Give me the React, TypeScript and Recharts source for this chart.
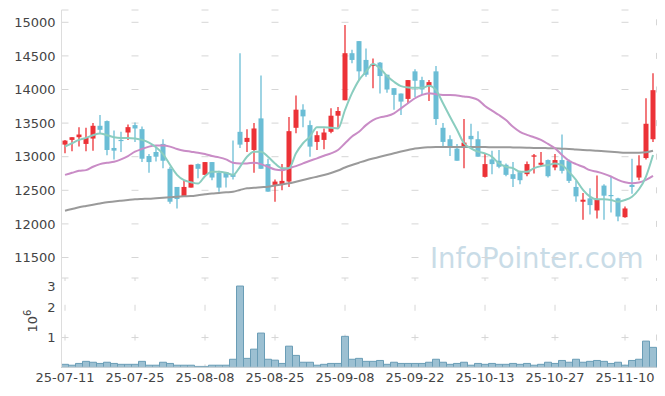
import { ComposedChart, BarChart, Bar, Line, XAxis, YAxis, CartesianGrid } from 'recharts'

// trading days shown (yy-mm-dd)
const DATES = [
  '25-07-11', '25-07-14', '25-07-15', '25-07-16', '25-07-17', '25-07-18', '25-07-21', '25-07-22', '25-07-23', '25-07-24',
  '25-07-25', '25-07-28', '25-07-29', '25-07-30', '25-07-31', '25-08-01', '25-08-04', '25-08-05', '25-08-06', '25-08-07',
  '25-08-08', '25-08-11', '25-08-12', '25-08-13', '25-08-14', '25-08-18', '25-08-19', '25-08-20', '25-08-21', '25-08-22',
  '25-08-25', '25-08-26', '25-08-27', '25-08-28', '25-08-29', '25-09-01', '25-09-02', '25-09-03', '25-09-04', '25-09-05',
  '25-09-08', '25-09-09', '25-09-10', '25-09-11', '25-09-12', '25-09-15', '25-09-16', '25-09-17', '25-09-18', '25-09-19',
  '25-09-22', '25-09-23', '25-09-24', '25-09-25', '25-09-26', '25-09-29', '25-09-30', '25-10-01', '25-10-02', '25-10-10',
  '25-10-13', '25-10-14', '25-10-15', '25-10-16', '25-10-17', '25-10-20', '25-10-21', '25-10-22', '25-10-23', '25-10-24',
  '25-10-27', '25-10-28', '25-10-29', '25-10-30', '25-10-31', '25-11-03', '25-11-04', '25-11-05', '25-11-06', '25-11-07',
  '25-11-10', '25-11-11', '25-11-12', '25-11-13', '25-11-14',
]

const TICK_DATES = ['25-07-11', '25-07-25', '25-08-08', '25-08-25', '25-09-08', '25-09-22', '25-10-13', '25-10-27', '25-11-10']

const OPEN = [
  13180, 13250, 13290, 13190, 13270, 13460, 13530, 13130, 13250, 13360,
  13470, 13410, 13010, 13070, 13190, 12820, 12550, 12410, 12540, 12890,
  12730, 12920, 12760, 12770, 12740, 13370, 13220, 13100, 13570, 12890,
  12580, 12590, 12630, 13430, 13700, 13470, 13220, 13250, 13370, 13610,
  13840, 14540, 14720, 14440, 14350, 14400, 14220, 14020, 13940, 13860,
  14270, 14140, 14050, 14270, 13430, 13260, 13120, 13150, 13310, 13260,
  12700, 12960, 12940, 12880, 12740, 12770, 12740, 13000, 12880, 12950,
  12840, 12950, 12940, 12550, 12330, 12380, 12200, 12570, 12430, 12380,
  12100, 12580, 12690, 12980, 13260,
]

const HIGH = [
  13250, 13290, 13440, 13430, 13500, 13620, 13540, 13390, 13370, 13480,
  13510, 13450, 13040, 13150, 13260, 12850, 12550, 12650, 12880, 12900,
  12920, 12920, 12790, 12770, 13240, 14540, 13410, 13500, 14210, 12970,
  12660, 12890, 13590, 13910, 13780, 13540, 13380, 13420, 13720, 13740,
  14960, 14590, 14720, 14610, 14460, 14410, 14220, 14020, 13940, 14140,
  14300, 14190, 14140, 14350, 13500, 13320, 13190, 13560, 13490, 13380,
  13050, 13090, 13100, 12900, 12920, 12790, 12930, 13040, 13070, 12960,
  13040, 13330, 12960, 12640, 12460, 12530, 12720, 12590, 12700, 12390,
  12260, 12970, 13020, 13870, 14240,
]

const LOW = [
  13050, 13080, 13150, 13080, 13090, 13350, 13020, 12960, 13070, 13250,
  13220, 12920, 12760, 12930, 12830, 12300, 12230, 12410, 12540, 12680,
  12730, 12650, 12480, 12540, 12660, 13130, 13070, 12760, 12820, 12480,
  12330, 12500, 12550, 13350, 13440, 13000, 13100, 13110, 13350, 13430,
  13840, 14390, 14140, 14190, 14020, 13940, 13950, 13700, 13620, 13800,
  13890, 13920, 13830, 13470, 13150, 13010, 12940, 12830, 13160, 13000,
  12690, 12740, 12830, 12710, 12550, 12590, 12710, 12750, 12850, 12690,
  12800, 12750, 12610, 12330, 12060, 12140, 12080, 12060, 12170, 12040,
  12090, 12450, 12650, 12960, 13220,
]

const CLOSE = [
  13240, 13290, 13330, 13280, 13460, 13400, 13100, 13090, 13240, 13440,
  13420, 12970, 12920, 13000, 12940, 12330, 12370, 12550, 12880, 12820,
  12920, 12690, 12540, 12690, 12700, 13180, 13280, 13420, 12820, 12480,
  12630, 12640, 13380, 13700, 13600, 13150, 13320, 13360, 13610, 13680,
  14540, 14440, 14270, 14220, 14380, 14200, 14000, 13920, 13820, 14140,
  14130, 14000, 14110, 13560, 13220, 13150, 12940, 13210, 13260, 13000,
  12890, 12890, 12850, 12730, 12670, 12650, 12890, 13020, 12910, 12710,
  12950, 12790, 12640, 12410, 12360, 12280, 12370, 12420, 12420, 12110,
  12230, 12550, 12870, 13490, 13990,
]

const MA5 = [
  13150, 13200, 13250, 13280, 13320, 13345, 13320, 13290, 13280, 13280,
  13270, 13250, 13210, 13140, 13040, 12880, 12730, 12650, 12620, 12600,
  12710, 12775, 12775, 12760, 12730, 12850, 13000, 13075, 13075, 13000,
  12900, 12830, 12830, 13050, 13200, 13300, 13440, 13440, 13430, 13420,
  13695, 13945, 14140, 14265, 14380, 14315, 14200, 14115, 14050, 14030,
  14025, 14025, 14055, 13990, 13795, 13595, 13400, 13200, 13125, 13075,
  13050, 13000, 12900, 12850, 12830, 12775, 12775, 12830, 12860, 12875,
  12900, 12875, 12775, 12655, 12505, 12405, 12365, 12365, 12355, 12330,
  12355, 12405, 12515, 12705, 13025,
]

const MA20 = [
  12730, 12760, 12790, 12800, 12850, 12890, 12910, 12925, 12960, 13010,
  13075, 13115, 13150, 13165, 13165, 13150, 13115, 13090, 13075, 13060,
  13040, 13010, 12990, 12960, 12910, 12900, 12900, 12910, 12890, 12850,
  12810, 12800, 12830, 12860, 12900, 12940, 12975, 13015, 13050, 13100,
  13200, 13300, 13370, 13470, 13545, 13585, 13605, 13645, 13720, 13795,
  13870, 13920, 13945, 13930, 13920, 13920, 13910, 13895, 13880, 13845,
  13755, 13685, 13620, 13545, 13445, 13370, 13325, 13290, 13250, 13190,
  13125, 13025, 12940, 12890, 12850, 12800, 12775, 12745, 12705, 12655,
  12620, 12605, 12615, 12655, 12715,
]

const MA60 = [
  12197, 12222, 12247, 12267, 12286, 12304, 12322, 12334, 12345, 12356,
  12366, 12371, 12375, 12383, 12390, 12397, 12405, 12411, 12415, 12427,
  12441, 12453, 12460, 12470, 12479, 12505, 12530, 12537, 12546, 12554,
  12572, 12588, 12604, 12628, 12653, 12679, 12703, 12728, 12758, 12795,
  12839, 12877, 12911, 12944, 12973, 13000, 13025, 13051, 13077, 13100,
  13122, 13134, 13140, 13144, 13144, 13144, 13144, 13144, 13144, 13144,
  13144, 13141, 13140, 13140, 13138, 13137, 13134, 13130, 13130, 13127,
  13125, 13119, 13115, 13107, 13100, 13095, 13089, 13082, 13075, 13067,
  13060, 13060, 13060, 13066, 13089,
]

const VOLUME = [
  100000, 70000, 130000, 200000, 170000, 130000, 170000, 130000, 100000, 100000,
  100000, 200000, 70000, 70000, 170000, 130000, 70000, 70000, 70000, 30000,
  30000, 70000, 70000, 70000, 270000, 2730000, 300000, 610000, 1150000, 270000,
  240000, 130000, 710000, 400000, 170000, 170000, 70000, 100000, 130000, 130000,
  1040000, 270000, 300000, 200000, 200000, 230000, 100000, 170000, 130000, 130000,
  130000, 130000, 170000, 270000, 170000, 100000, 130000, 170000, 70000, 130000,
  100000, 130000, 100000, 100000, 130000, 100000, 130000, 70000, 100000, 170000,
  130000, 230000, 170000, 270000, 170000, 200000, 230000, 200000, 130000, 170000,
  70000, 230000, 270000, 880000, 670000,
]

const PRICE_TICKS = [11500, 12000, 12500, 13000, 13500, 14000, 14500, 15000]
const VOLUME_TICKS = [1000000, 2000000, 3000000]

const UP = '#ec3237'
const DOWN = '#6bbdd5'
const BORDER = '#dddddd'
const CROSS = '#d6d6d6'
const tickStyle = { fontSize: 13, fill: '#444', fontFamily: 'DejaVu Sans' }

const rows = DATES.map((date, i) => ({
  date,
  open: OPEN[i],
  high: HIGH[i],
  low: LOW[i],
  close: CLOSE[i],
  ma5: MA5[i],
  ma20: MA20[i],
  ma60: MA60[i],
  volume: VOLUME[i],
}))

const Candle = (props: any) => {
  const { x, y, width, height, payload } = props
  if (!payload || y == null) return null
  const { open, close, high, low } = payload
  const top = Math.min(y, y + height)
  const bottom = Math.max(y, y + height)
  // map a price into the bar's pixel span (bar spans low..high)
  const px = (v: number) => top + ((high - v) / (high - low || 1)) * (bottom - top)
  const color = close >= open ? UP : DOWN
  const cx = x + width / 2
  const bodyTop = px(Math.max(open, close))
  const bodyBottom = px(Math.min(open, close))
  return (
    <g>
      <line x1={cx} x2={cx} y1={top} y2={bottom} stroke={color} strokeWidth={1.3} />
      <rect x={cx - 2.5} width={5} y={bodyTop} height={Math.max(bodyBottom - bodyTop, 1.2)} fill={color} />
    </g>
  )
}

const ExpLabel = (props: any) => {
  const vb = props.viewBox || { x: 0, y: 278, width: 61.5, height: 89 }
  const x = vb.x + 37.5
  const y = vb.y + vb.height / 2 - 1.5
  return (
    <text x={x} y={y} transform={`rotate(-90, ${x}, ${y})`} textAnchor="middle" fill="#444" fontSize={13} fontFamily="DejaVu Sans">
      10<tspan dy={-6} fontSize={10}>6</tspan>
    </text>
  )
}

export default function App() {
  return (
    <div style={{ position: 'absolute', left: 0, top: 0, width: 665, height: 396, background: '#fff' }}>
      <div style={{ position: 'absolute', left: 430, top: 242, fontFamily: '"DejaVu Sans"', fontSize: 27.5, lineHeight: 'normal', color: '#c9dce7', whiteSpace: 'nowrap' }}>
        InfoPointer.com
      </div>
      <div style={{ position: 'absolute', left: 0, top: 0 }}>
        <ComposedChart width={665} height={278} data={rows} margin={{ top: 10, right: 8.5, bottom: 0, left: 0 }} barCategoryGap={0}>
          <CartesianGrid vertical={false} stroke={CROSS} strokeDasharray="7 63" />
          <CartesianGrid horizontal={false} stroke={CROSS} strokeDasharray="6 27.6" strokeDashoffset={24.3} />
          <XAxis dataKey="date" ticks={TICK_DATES} height={0} tick={false} tickLine={false} axisLine={false} />
          <XAxis xAxisId="top" dataKey="date" orientation="top" height={0} tick={false} tickLine={false} axisLine={{ stroke: BORDER }} />
          <YAxis
            width={61.5}
            domain={[11195, 15183]}
            allowDataOverflow
            ticks={PRICE_TICKS}
            tick={tickStyle}
            tickLine={false}
            tickSize={4}
            tickMargin={2}
            axisLine={{ stroke: BORDER }}
          />
          <YAxis yAxisId="right" orientation="right" width={0} tick={false} tickLine={false} axisLine={{ stroke: BORDER }} />
          <Bar dataKey={(d: any) => [d.low, d.high]} shape={Candle} isAnimationActive={false} />
          <Line dataKey="ma60" type="monotone" stroke="#9a9a9a" strokeWidth={2} dot={false} isAnimationActive={false} />
          <Line dataKey="ma20" type="monotone" stroke="#c98cc6" strokeWidth={2} dot={false} isAnimationActive={false} />
          <Line dataKey="ma5" type="monotone" stroke="#8acdbf" strokeWidth={2} dot={false} isAnimationActive={false} />
        </ComposedChart>
      </div>
      <div style={{ position: 'absolute', left: 0, top: 278 }}>
        <BarChart width={665} height={118} data={rows} margin={{ top: 0, right: 8.5, bottom: 4.7, left: 0 }} barCategoryGap={0}>
          <CartesianGrid vertical={false} stroke={CROSS} strokeDasharray="7 63" />
          <CartesianGrid horizontal={false} stroke={CROSS} strokeDasharray="6 23.77" strokeDashoffset={3} />
          <XAxis
            dataKey="date"
            ticks={TICK_DATES}
            height={24}
            tick={tickStyle}
            tickLine={false}
            tickSize={3}
            tickMargin={2}
            axisLine={{ stroke: BORDER }}
          />
          <XAxis xAxisId="top" dataKey="date" orientation="top" height={0} tick={false} tickLine={false} axisLine={{ stroke: BORDER }} />
          <YAxis
            width={61.5}
            domain={[0, 3000000]}
            ticks={VOLUME_TICKS}
            tickFormatter={(v: number) => String(v / 1000000)}
            tick={tickStyle}
            tickLine={false}
            tickSize={4}
            tickMargin={2}
            axisLine={{ stroke: BORDER }}
            label={<ExpLabel />}
          />
          <YAxis yAxisId="right" orientation="right" width={0} tick={false} tickLine={false} axisLine={{ stroke: BORDER }} />
          <Bar dataKey="volume" fill="#9cc0d2" stroke="#6a9db6" strokeWidth={1} isAnimationActive={false} />
        </BarChart>
      </div>
    </div>
  )
}
